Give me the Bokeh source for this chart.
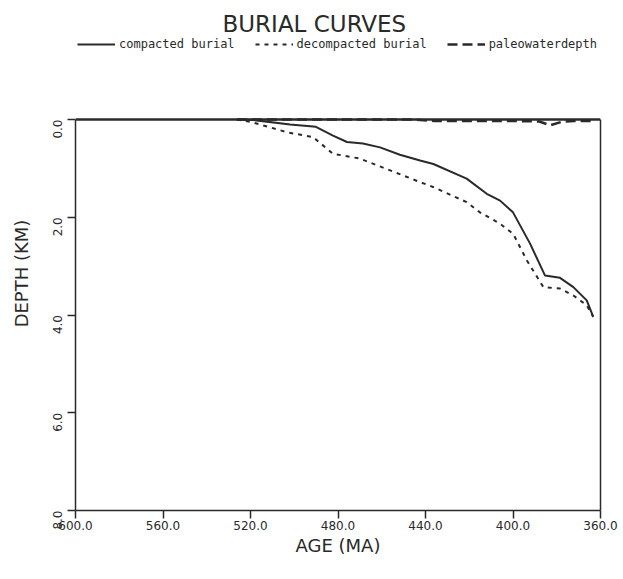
from bokeh.plotting import figure
from bokeh.models import (Range1d, FixedTicker, NumeralTickFormatter, Legend, LegendItem,
                          LinearAxis, Span)
from bokeh.embed import file_html
from bokeh.resources import INLINE
import math

# Data (age in Ma, depth in km)
compacted_age = [526.2, 518.9, 501.9, 490.1, 482.3, 475.9, 468.6, 460.8, 451.7, 442.5, 436.4,
                 421.2, 412.0, 405.9, 400.0, 392.2, 385.4, 378.5, 372.4, 366.3, 363.4]
compacted_depth = [0.0, 0.01, 0.10, 0.15, 0.33, 0.46, 0.49, 0.57, 0.72, 0.84, 0.91,
                   1.21, 1.52, 1.66, 1.90, 2.54, 3.19, 3.24, 3.43, 3.70, 4.03]

decompacted_age = [526.2, 518.9, 503.4, 491.4, 482.3, 470.0, 442.5, 436.6, 421.2, 415.1,
                   406.0, 399.9, 393.7, 386.1, 378.5, 372.4, 366.3, 363.3]
decompacted_depth = [0.0, 0.06, 0.26, 0.36, 0.70, 0.80, 1.28, 1.38, 1.69, 1.90,
                     2.13, 2.34, 2.88, 3.43, 3.46, 3.60, 3.80, 4.04]

paleo_age = [526.2, 445.0, 436.0, 420.0, 400.0, 388.0, 383.0, 378.0, 372.0, 363.3]
paleo_depth = [0.0, 0.0, 0.03, 0.03, 0.03, 0.04, 0.12, 0.05, 0.03, 0.03]

x_ticks = [600, 560, 520, 480, 440, 400, 360]
y_ticks = [0, 2, 4, 6, 8]

FONT = "DejaVu Sans"
INK = "#2a2a2a"

# layout: frame spans from just under the title to the 8 km line; the box (0..8 km)
# occupies the lower 391 px of the frame, leaving room for the legend above it.
FRAME_TOP = 36
BOX_TOP = 119
BOX_BOTTOM = 510
depth_min, depth_max = y_ticks[0], y_ticks[-1]
km_per_px = (depth_max - depth_min) / (BOX_BOTTOM - BOX_TOP)
y_top = depth_min - (BOX_TOP - FRAME_TOP) * km_per_px

p = figure(width=623, height=579, output_backend="svg", toolbar_location=None,
           x_range=Range1d(x_ticks[0], x_ticks[-1]), y_range=Range1d(depth_max, y_top),
           min_border_left=75, min_border_right=23, min_border_top=FRAME_TOP,
           min_border_bottom=579 - BOX_BOTTOM)

p.title.text = "BURIAL CURVES"
p.title.align = "left"
p.title.offset = 147
p.title.standoff = 0
p.title.text_font = FONT
p.title.text_font_style = "normal"
p.title.text_font_size = "23px"
p.title.text_color = INK

p.grid.visible = False
p.outline_line_color = None
p.background_fill_color = "white"
p.border_fill_color = "white"

right_axis = LinearAxis(bounds=(depth_min, depth_max), ticker=FixedTicker(ticks=[]),
                        major_tick_line_color=None, minor_tick_line_color=None,
                        axis_line_color=INK, axis_line_width=1.5)
p.add_layout(right_axis, "right")
p.add_layout(Span(location=depth_min, dimension="width", line_color=INK, line_width=2.5))

for ax in (p.xaxis[0], p.yaxis[0]):
    ax.axis_line_color = INK
    ax.axis_line_width = 1.5
    ax.major_tick_line_color = INK
    ax.major_tick_line_width = 1.5
    ax.major_tick_in = 0
    ax.major_tick_out = 8
    ax.minor_tick_line_color = None
    ax.major_label_text_font = FONT
    ax.major_label_text_font_size = "12px"
    ax.major_label_text_color = INK
    ax.axis_label_text_font = FONT
    ax.axis_label_text_font_style = "normal"
    ax.axis_label_text_font_size = "18px"
    ax.axis_label_text_color = INK
    ax.formatter = NumeralTickFormatter(format="0.0")

p.xaxis[0].ticker = FixedTicker(ticks=x_ticks)
p.yaxis[0].ticker = FixedTicker(ticks=y_ticks)
p.yaxis[0].bounds = (depth_min, depth_max)
p.xaxis[0].axis_label = "AGE (MA)"
p.yaxis[0].axis_label = "DEPTH (KM)"
p.yaxis[0].major_label_orientation = math.pi / 2
p.xaxis[0].major_label_standoff = 2
p.yaxis[0].major_label_standoff = 10
p.xaxis[0].axis_label_standoff = 2
p.yaxis[0].axis_label_standoff = 14

r1 = p.line(compacted_age, compacted_depth, line_color=INK, line_width=2)
r2 = p.line(decompacted_age, decompacted_depth, line_color=INK, line_width=2, line_dash="4 5")
r3 = p.line(paleo_age, paleo_depth, line_color=INK, line_width=2.5, line_dash="10 5")

legend = Legend(items=[LegendItem(label="compacted burial", renderers=[r1]),
                       LegendItem(label="decompacted burial", renderers=[r2]),
                       LegendItem(label="paleowaterdepth", renderers=[r3])],
                orientation="horizontal", location=(2, BOX_BOTTOM - 51),
                label_text_font="DejaVu Sans Mono", label_text_font_size="12px",
                label_text_color=INK,
                glyph_width=38, glyph_height=10, label_standoff=4, spacing=20,
                padding=0, margin=0, border_line_color=None, background_fill_alpha=0)
p.add_layout(legend, "center")

open("out.html", "w").write(file_html(p, INLINE))
